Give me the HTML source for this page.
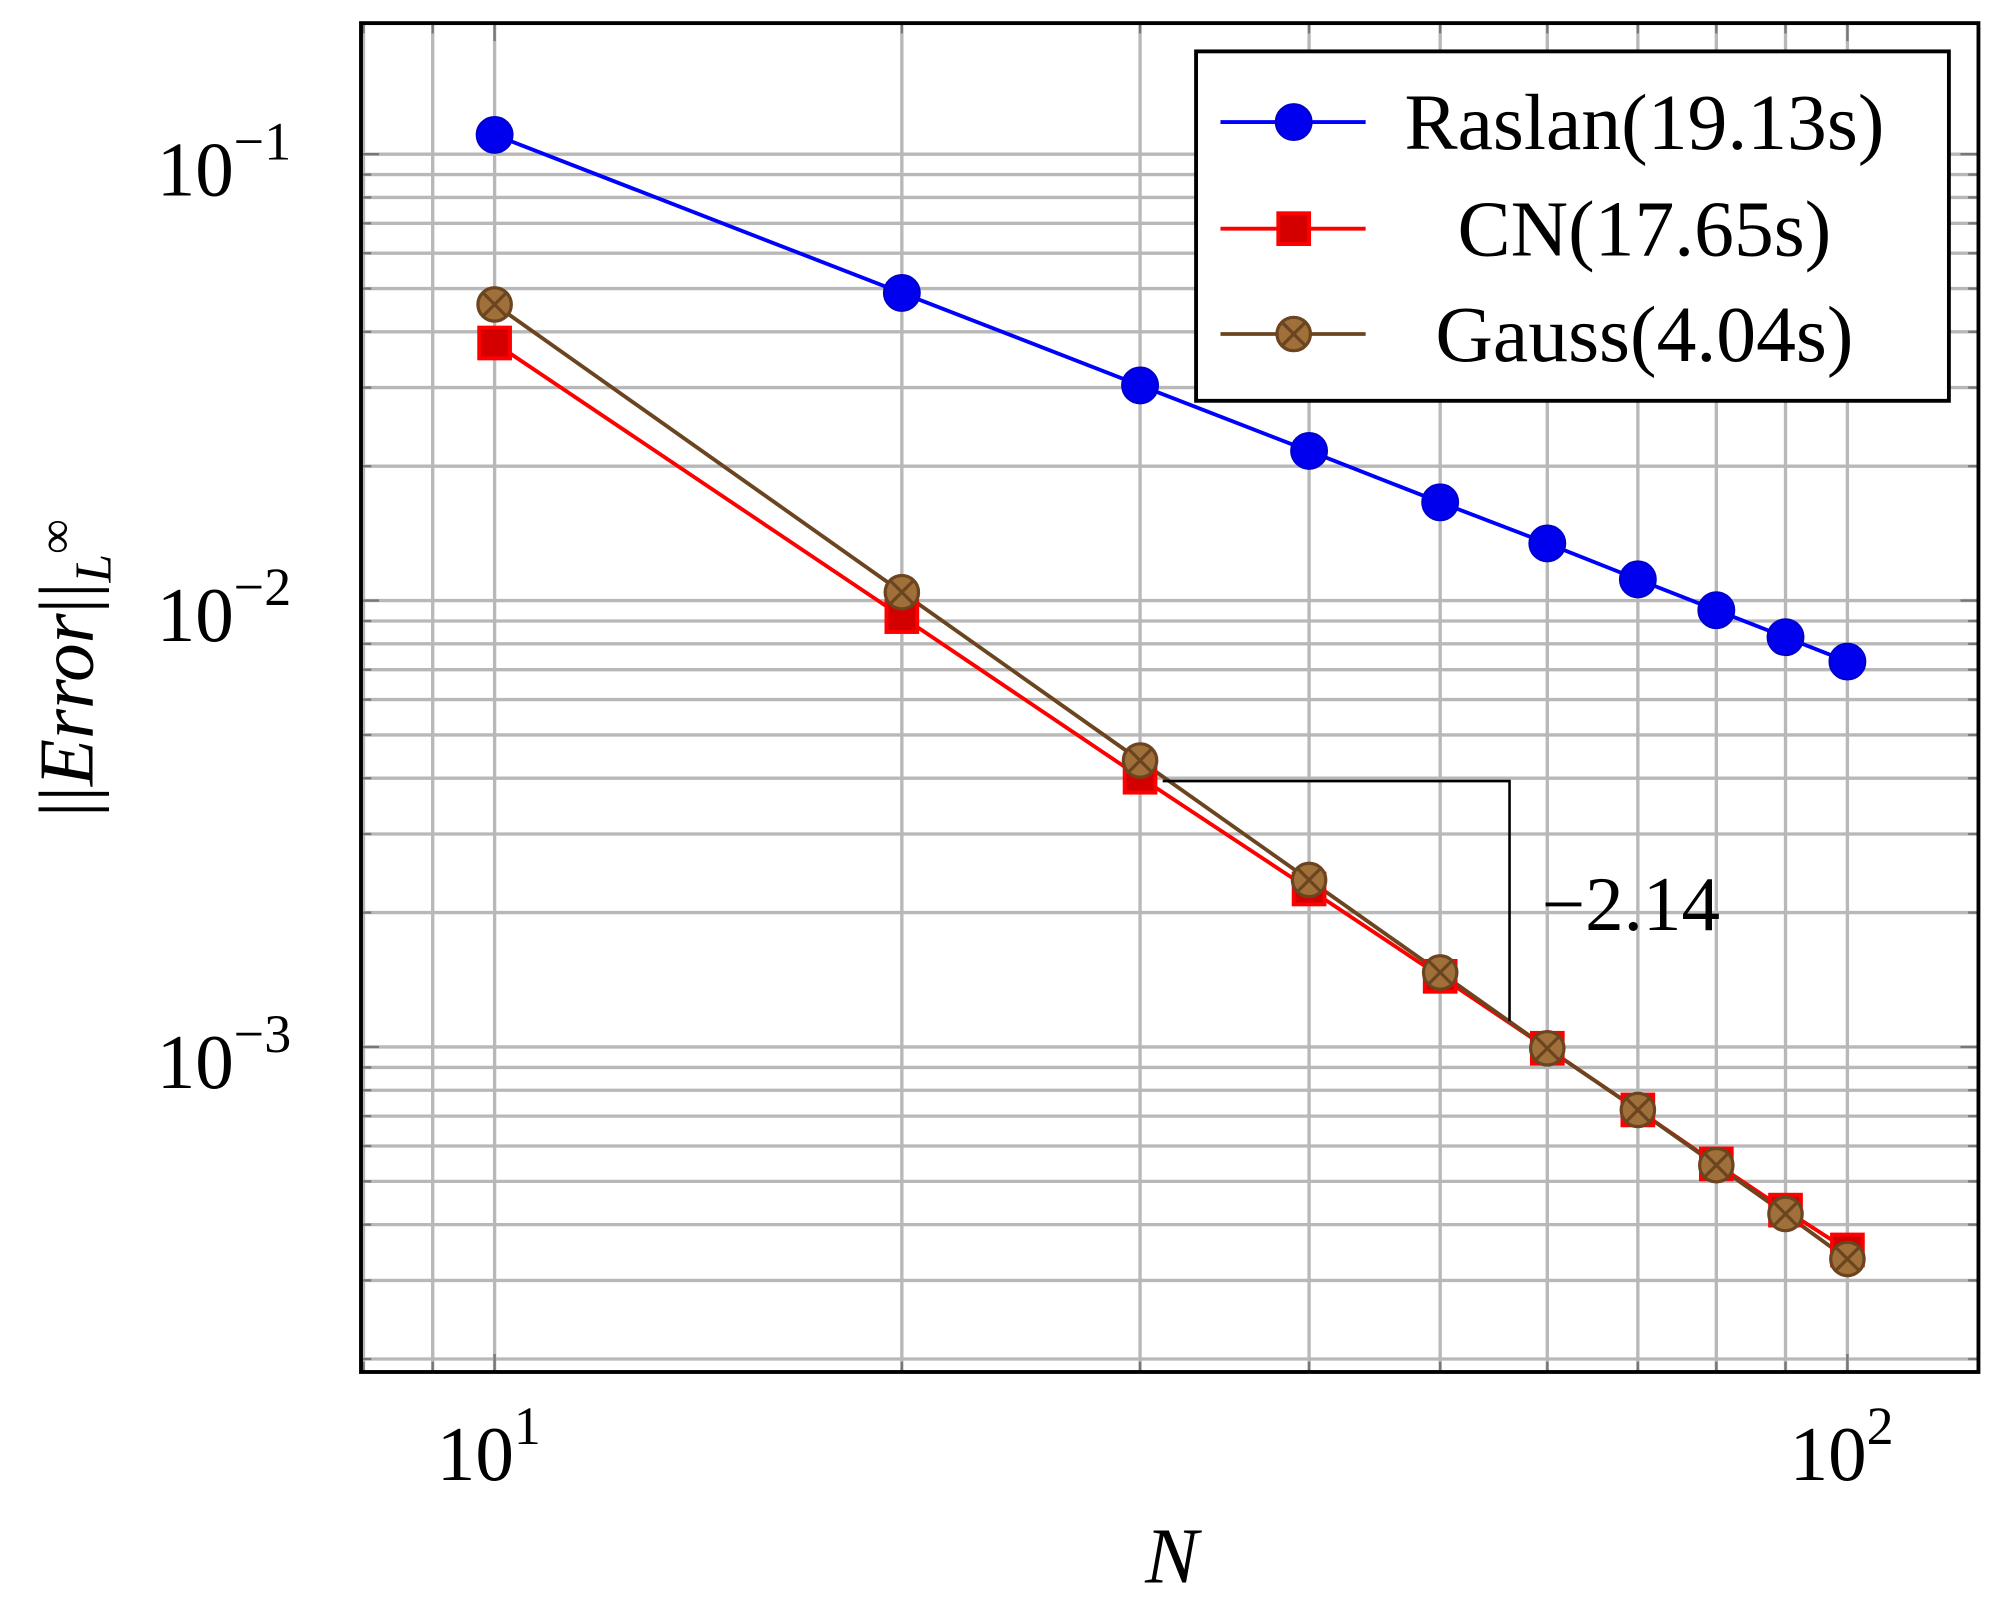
<!DOCTYPE html>
<html><head><meta charset="utf-8"><style>html,body{margin:0;padding:0;background:#fff}svg{display:block}</style></head>
<body>
<svg width="2008" height="1604" viewBox="0 0 1563 1248.6" preserveAspectRatio="none" xmlns="http://www.w3.org/2000/svg" font-family="'Liberation Serif', serif">
<g id="grid" stroke="#b8b8b8" stroke-width="2.6"></g>
<g id="ticks" stroke="#777" stroke-width="1.8"></g>
<rect x="281" y="18" width="1259" height="1050" fill="none" stroke="#000" stroke-width="3"/>
<g id="series"></g>
<path d="M905 608 H1175 V795" fill="none" stroke="#000" stroke-width="2"/>
<text x="1200" y="724" font-size="60">−2.14</text>
<g font-size="60">
<text x="122" y="152">10<tspan dy="-28" font-size="42">−1</tspan></text>
<text x="122" y="499">10<tspan dy="-28" font-size="42">−2</tspan></text>
<text x="122" y="847">10<tspan dy="-28" font-size="42">−3</tspan></text>
<text x="340" y="1152">10<tspan dy="-28" font-size="42">1</tspan></text>
<text x="1393" y="1152">10<tspan dy="-28" font-size="42">2</tspan></text>
<text x="912" y="1232" font-style="italic" font-size="62" text-anchor="middle">N</text>
<text transform="translate(72,520) rotate(-90)" text-anchor="middle" font-size="60">||<tspan font-style="italic">Error</tspan>||<tspan font-size="40" dy="14" font-style="italic">L</tspan><tspan font-size="38" dy="-30">∞</tspan></text>
</g>
<rect x="931" y="40" width="586" height="272" fill="#fff" stroke="#000" stroke-width="3"/>
<g id="legend"></g>
<g font-size="62" text-anchor="middle">
<text x="1280" y="116">Raslan(19.13s)</text>
<text x="1280" y="199">CN(17.65s)</text>
<text x="1280" y="281">Gauss(4.04s)</text>
</g>
<script>
var ns="http://www.w3.org/2000/svg";
function el(p,t,a){var e=document.createElementNS(ns,t);for(var k in a)e.setAttribute(k,a[k]);p.appendChild(e);return e;}
function X(n){return 385+(Math.log10(n)-1)*1053;}
function Y(v){return 120+(-1-Math.log10(v))*347.5;}
var g=document.getElementById('grid'),tk=document.getElementById('ticks');
[8,9,10,20,30,40,50,60,70,80,90,100].forEach(function(n){var x=X(n);el(g,'line',{x1:x,x2:x,y1:18,y2:1068});
 var L=(n==10||n==100)?14:8;el(tk,'line',{x1:x,x2:x,y1:1068,y2:1068-L});el(tk,'line',{x1:x,x2:x,y1:18,y2:18+L});});
[-4,-3,-2,-1].forEach(function(d){for(var m=1;m<10;m++){var v=m*Math.pow(10,d);var y=Y(v);if(y<18||y>1068)continue;
 el(g,'line',{x1:281,x2:1540,y1:y,y2:y});var L=m==1?14:8;el(tk,'line',{x1:281,x2:281+L,y1:y,y2:y});el(tk,'line',{x1:1540,x2:1540-L,y1:y,y2:y});}});
var xs=[10,20,30,40,50,60,70,80,90,100].map(X);
var R=[105,228,300,351,391,423,451,475,496,515],C=[267,480,605,692,760,816,864,906,942,973],G=[237,461,592,685,757,816,864,907,945,980];
var s=document.getElementById('series');
function line(ys,c){el(s,'polyline',{points:xs.map(function(x,i){return x+','+ys[i]}).join(' '),fill:'none',stroke:c,'stroke-width':3});}
function circ(p,x,y){el(p,'circle',{cx:x,cy:y,r:14,fill:'#0000ee',stroke:'#0000cc','stroke-width':1.5});}
function sq(p,x,y){el(p,'rect',{x:x-12,y:y-12,width:24,height:24,fill:'#d40000',stroke:'#ff0000','stroke-width':3});}
function gs(p,x,y){el(p,'circle',{cx:x,cy:y,r:13,fill:'#a0703a',stroke:'#6b4420','stroke-width':2.5});
 el(p,'path',{d:'M'+(x-9)+' '+(y-9)+'L'+(x+9)+' '+(y+9)+'M'+(x+9)+' '+(y-9)+'L'+(x-9)+' '+(y+9),stroke:'#6b4420','stroke-width':2.5});}
line(R,'#0000ff');line(C,'#ff0000');line(G,'#6b4420');
xs.forEach(function(x,i){circ(s,x,R[i]);});
xs.forEach(function(x,i){sq(s,x,C[i]);});
xs.forEach(function(x,i){gs(s,x,G[i]);});
var lg=document.getElementById('legend');
el(lg,'line',{x1:950,x2:1063,y1:95,y2:95,stroke:'#0000ff','stroke-width':3});circ(lg,1007,95);
el(lg,'line',{x1:950,x2:1063,y1:178,y2:178,stroke:'#ff0000','stroke-width':3});sq(lg,1007,178);
el(lg,'line',{x1:950,x2:1063,y1:260,y2:260,stroke:'#6b4420','stroke-width':3});gs(lg,1007,260);
</script>
</svg>
</body></html>
